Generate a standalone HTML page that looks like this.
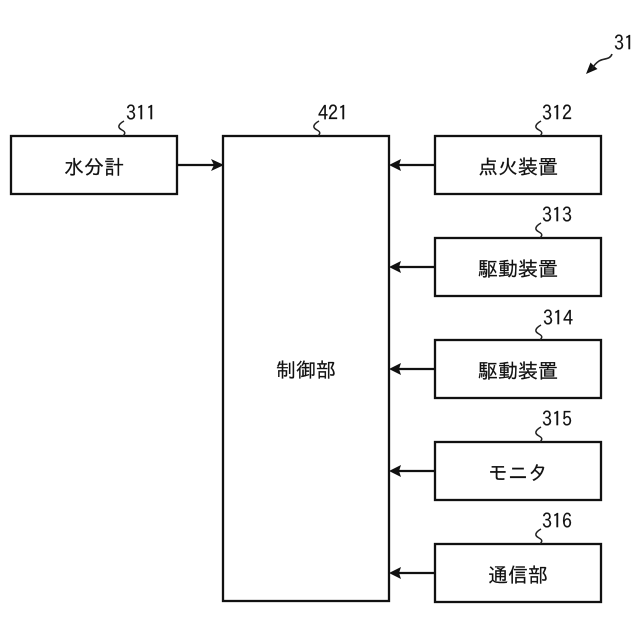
<!DOCTYPE html>
<html>
<head>
<meta charset="utf-8">
<style>
html,body{margin:0;padding:0;background:#fff;}
svg{display:block;}
.j{font-family:"IPAGothic","Noto Sans CJK JP",sans-serif;font-size:20px;fill:#111;text-anchor:middle;stroke:#111;stroke-width:0.200;}
.n{font-family:"IPAGothic","Liberation Sans",sans-serif;font-size:20px;fill:#111;stroke:#111;stroke-width:0.150;}
</style>
</head>
<body>
<svg width="640" height="640" viewBox="0 0 640 640" xmlns="http://www.w3.org/2000/svg">
<g fill="none" stroke="#111" stroke-width="2.300">
<rect x="11" y="136" width="166" height="58"/>
<rect x="223" y="136" width="166" height="465"/>
<rect x="435" y="136" width="166" height="58"/>
<rect x="435" y="238" width="166" height="58"/>
<rect x="435" y="340" width="166" height="58"/>
<rect x="435" y="442" width="166" height="58"/>
<rect x="435" y="544" width="166" height="58"/>
<path d="M177 165H214"/>
<path d="M435 165H398"/>
<path d="M435 267H398"/>
<path d="M435 369H398"/>
<path d="M435 471H398"/>
<path d="M435 573H398"/>
</g>
<g fill="#111">
<path d="M224 165L211 159L214 165L211 171Z"/>
<path d="M389 165L401 159L399 165L401 171Z"/>
<path d="M389 267L401 261L399 267L401 273Z"/>
<path d="M389 369L401 363L399 369L401 375Z"/>
<path d="M389 471L401 465L399 471L401 477Z"/>
<path d="M389 573L401 567L399 573L401 579Z"/>
<path d="M586 74L590.500 62.500L594 66L597.500 69Z"/>
</g>
<g fill="none" stroke="#222" stroke-width="1.500">
<path d="M124 121C117 125 118 128 122 130C126 132 125 134 123 136"/>
<path d="M319 121C312 125 313 128 317 130C321 132 320 134 318 136"/>
<path d="M541 121C534 125 535 128 539 130C543 132 542 134 540 136"/>
<path d="M541 223C534 227 535 230 539 232C543 234 542 236 540 238"/>
<path d="M541 325C534 329 535 332 539 334C543 336 542 338 540 340"/>
<path d="M541 427C534 431 535 434 539 436C543 438 542 440 540 442"/>
<path d="M541 529C534 533 535 536 539 538C543 540 542 542 540 544"/>
<path d="M612 54C610 60 604 58 599 61C596 63 594 65 592 69" stroke-width="1.600"/>
</g>
<text class="j" x="94" y="174">水分計</text>
<text class="j" x="306" y="377">制御部</text>
<text class="j" x="518" y="174">点火装置</text>
<text class="j" x="518" y="276">駆動装置</text>
<text class="j" x="518" y="378">駆動装置</text>
<text class="j" x="518" y="480">モニタ</text>
<text class="j" x="518" y="582">通信部</text>
<text class="n" x="126" y="120">311</text>
<text class="n" x="318" y="120">421</text>
<text class="n" x="542" y="120">312</text>
<text class="n" x="542" y="222">313</text>
<text class="n" x="543" y="325">314</text>
<text class="n" x="542" y="426">315</text>
<text class="n" x="542" y="528">316</text>
<text class="n" x="614" y="50">31</text>
</svg>
</body>
</html>
